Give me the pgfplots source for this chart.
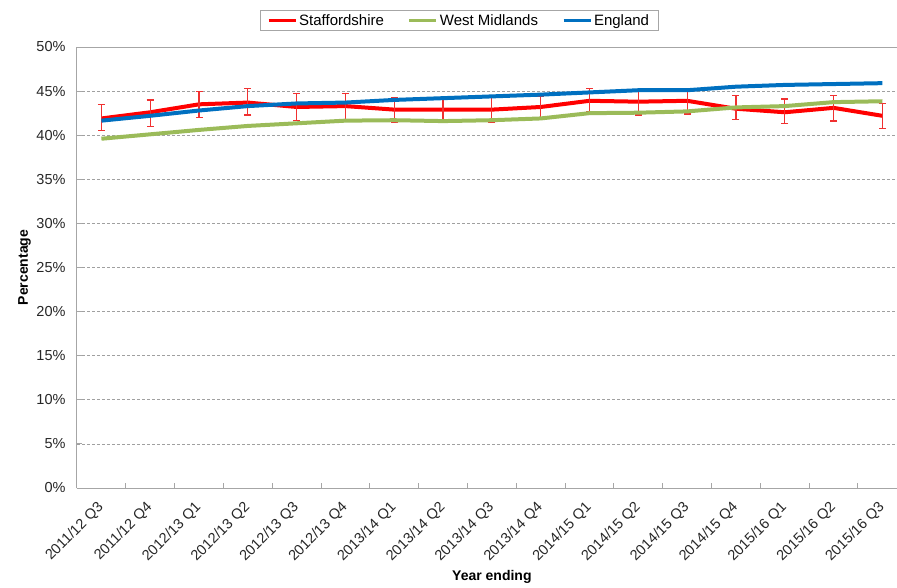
\documentclass[border=0pt]{standalone}
\usepackage{pgfplots}
\pgfplotsset{compat=1.18}
\usepackage{pgfplotstable}
\usepackage{fontspec}
\setmainfont{Liberation Sans}
\definecolor{staff}{HTML}{FF0000}
\definecolor{errred}{HTML}{F03030}
\definecolor{wmid}{HTML}{9BBB59}
\definecolor{eng}{HTML}{0070C0}
\definecolor{axisgray}{HTML}{A6A6A6}
\definecolor{gridgray}{HTML}{A0A0A0}

\pgfplotstableread{
x y ep em
0 41.9 1.6 1.4
1 42.6 1.4 1.6
2 43.5 1.5 1.5
3 43.7 1.6 1.4
4 43.2 1.55 1.5
5 43.3 1.4 1.5
6 42.9 1.35 1.4
7 42.9 1.3 1.4
8 42.9 1.5 1.4
9 43.2 1.2 1.2
10 43.9 1.4 1.2
11 43.8 1.2 1.5
12 43.9 1.4 1.5
13 43.0 1.5 1.25
14 42.6 1.5 1.25
15 43.1 1.4 1.5
16 42.2 1.35 1.4
}\staffdata

\pgfplotstableread{
x y
0 39.6
1 40.1
2 40.6
3 41.05
4 41.35
5 41.65
6 41.7
7 41.6
8 41.7
9 41.9
10 42.5
11 42.55
12 42.7
13 43.15
14 43.3
15 43.75
16 43.85
}\wmdata

\pgfplotstableread{
x y
0 41.65
1 42.2
2 42.8
3 43.3
4 43.6
5 43.7
6 44.0
7 44.2
8 44.4
9 44.6
10 44.85
11 45.1
12 45.1
13 45.5
14 45.7
15 45.8
16 45.9
}\engdata

\begin{document}
\begin{tikzpicture}[x=1pt,y=1pt]
\useasboundingbox (-77,-99) rectangle (820,488);
\begin{axis}[
  at={(0,0)}, anchor=south west,
  scale only axis, width=820pt, height=441pt,
  xmin=-0.5, xmax=16.3, ymin=0, ymax=50,
  /pgf/number format/assume math mode=true,
  axis x line*=bottom, axis y line*=left,
  axis line style={axisgray, line width=1pt},
  major tick length=0pt, minor tick length=5pt,
  tick style={axisgray, line width=1pt},
  ytick={0,5,...,45},
  minor ytick={0,5,...,50},
  extra y ticks={50}, extra y tick labels={50\%},
  extra y tick style={major grid style={solid, draw=axisgray, line width=1pt}},
  yticklabel={\pgfmathprintnumber{\tick}\%},
  ymajorgrids,
  major grid style={draw=gridgray, dash pattern=on 3pt off 2pt, line width=0.8pt},
  xtick={0,...,16},
  minor xtick={-0.5,0.5,...,15.5},
  xticklabels={2011/12 Q3,2011/12 Q4,2012/13 Q1,2012/13 Q2,2012/13 Q3,2012/13 Q4,2013/14 Q1,2013/14 Q2,2013/14 Q3,2013/14 Q4,2014/15 Q1,2014/15 Q2,2014/15 Q3,2014/15 Q4,2015/16 Q1,2015/16 Q2,2015/16 Q3},
  xticklabel style={xshift=-5pt, yshift=-11pt, rotate=45, anchor=north east, inner sep=1pt},
  yticklabel style={xshift=-8pt},
  ticklabel style={font=\fontsize{14.5}{16}\selectfont, text=black!85},
  xlabel={\textbf{Year ending}},
  ylabel={\textbf{Percentage}},
  label style={font=\fontsize{14}{16}\selectfont},
  xlabel style={at={(axis description cs:0.506,-0.2018)}, anchor=center},
  ylabel style={at={(axis description cs:-0.064,0.5)}, anchor=center},
  legend style={at={(axis description cs:0.466,1.060)}, anchor=center,
    legend columns=3, draw=gray!70, line width=0.8pt,
    font=\fontsize{15}{17}\selectfont, inner ysep=2pt, inner xsep=7pt,
    /tikz/every even column/.append style={column sep=22pt}},
  legend image code/.code={\draw[#1, line width=3pt] (0pt,0pt) -- (27pt,0pt);},
  legend cell align=left,
]
\addplot[staff, line width=4pt, line join=round,
  error bars/.cd, y dir=both, y explicit,
  error bar style={color=errred, line width=1.2pt, line join=miter},
  error mark options={color=errred, line width=1.2pt, mark size=3.5pt, rotate=90}]
  table[x=x, y=y, y error plus=ep, y error minus=em] {\staffdata};
\addlegendentry{Staffordshire}
\addplot[wmid, line width=4pt, line join=round] table[x=x, y=y] {\wmdata};
\addlegendentry{West Midlands}
\addplot[eng, line width=4pt, line join=round] table[x=x, y=y] {\engdata};
\addlegendentry{England}
\end{axis}
\end{tikzpicture}
\end{document}
